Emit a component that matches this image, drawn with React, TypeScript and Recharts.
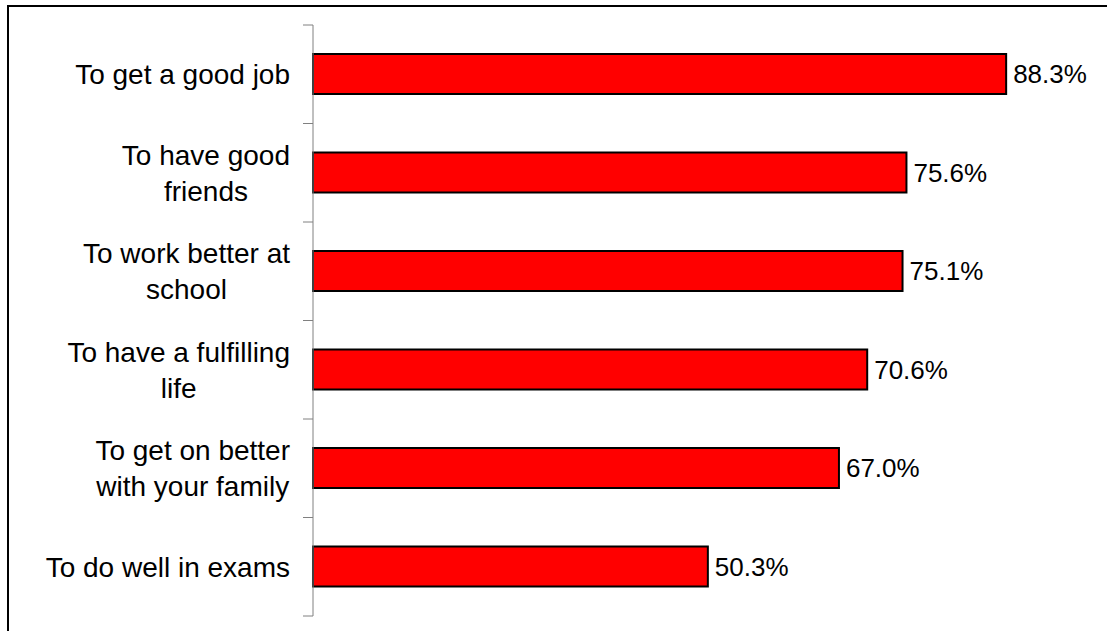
import React from 'react';
import { BarChart, Bar, XAxis, YAxis, LabelList } from 'recharts';

const categories = [
    'To get a good job',
    'To have good friends',
    'To work better at school',
    'To have a fulfilling life',
    'To get on better with your family',
    'To do well in exams'
];

// how the category labels break in the original
const labelLines = [
    ['To get a good job'],
    ['To have good', 'friends'],
    ['To work better at', 'school'],
    ['To have a fulfilling', 'life'],
    ['To get on better', 'with your family'],
    ['To do well in exams']
];

const values = [88.3, 75.6, 75.1, 70.6, 67.0, 50.3];

const data = categories.map((name, i) => ({ name, value: values[i] }));

const WIDTH = 1107;
const HEIGHT = 631;
const MARGIN = { top: 25, right: 9, bottom: 15, left: 0 };
const Y_AXIS_WIDTH = 313;
const AXIS_X = MARGIN.left + Y_AXIS_WIDTH;
const PLOT_H = HEIGHT - MARGIN.top - MARGIN.bottom;
const FONT = '"Liberation Sans", Arial, Helvetica, sans-serif';
const CAT_FONT_SIZE = 28;
const VAL_FONT_SIZE = 26;
const LINE_H = 36;
const AXIS_COLOR = '#808080';

let measureCtx: CanvasRenderingContext2D | null = null;
const textWidth = (s: string) => {
    if (!measureCtx) {
        measureCtx = document.createElement('canvas').getContext('2d');
        if (measureCtx) measureCtx.font = `${CAT_FONT_SIZE}px ${FONT}`;
    }
    return measureCtx ? measureCtx.measureText(s).width : s.length * CAT_FONT_SIZE * 0.5;
};

const CategoryTick = (props: any) => {
    const { y, payload, index } = props;
    const half = payload && payload.offset ? payload.offset : PLOT_H / categories.length / 2;
    const lines = labelLines[index] || [String(payload.value)];
    const right = AXIS_X - 23;
    const blockW = Math.max(...lines.map(textWidth));
    const cx = right - blockW / 2;
    const firstBaseline = y + 10 - ((lines.length - 1) * LINE_H) / 2;
    const isLast = index === categories.length - 1;
    return (
        <g>
            <line x1={AXIS_X - 10} x2={AXIS_X} y1={y - half} y2={y - half} stroke={AXIS_COLOR} strokeWidth={1} />
            {isLast && (
                <line x1={AXIS_X - 10} x2={AXIS_X} y1={y + half} y2={y + half} stroke={AXIS_COLOR} strokeWidth={1} />
            )}
            <text textAnchor="middle" fontSize={CAT_FONT_SIZE} fontFamily={FONT} fill="#000">
                {lines.map((l: string, i: number) => (
                    <tspan key={i} x={cx} y={firstBaseline + i * LINE_H}>{l}</tspan>
                ))}
            </text>
        </g>
    );
};

const App: React.FC = () => {
    return (
        <div style={{ position: 'fixed', left: 0, top: 0, width: WIDTH, height: HEIGHT, overflow: 'hidden', background: '#fff' }}>
            <div
                style={{
                    position: 'absolute',
                    left: 7,
                    top: 5,
                    width: 1200,
                    height: 700,
                    border: '2px solid #000',
                    boxSizing: 'border-box'
                }}
            />
            <div style={{ position: 'absolute', left: 0, top: 0 }}>
                <BarChart width={WIDTH} height={HEIGHT} data={data} layout="vertical" margin={MARGIN}>
                    <XAxis type="number" domain={[0, 100]} hide />
                    <YAxis
                        type="category"
                        dataKey="name"
                        width={Y_AXIS_WIDTH}
                        axisLine={{ stroke: AXIS_COLOR, strokeWidth: 1 }}
                        tickLine={false}
                        tick={<CategoryTick />}
                        interval={0}
                    />
                    <Bar
                        dataKey="value"
                        fill="#FF0000"
                        stroke="#000"
                        strokeWidth={2}
                        barSize={40}
                        isAnimationActive={false}
                    >
                        <LabelList
                            dataKey="value"
                            position="right"
                            offset={7}
                            formatter={(v: any) => `${Number(v).toFixed(1)}%`}
                            style={{ fontSize: VAL_FONT_SIZE, fontFamily: FONT, fill: '#000' }}
                        />
                    </Bar>
                </BarChart>
            </div>
        </div>
    );
};

export default App;
